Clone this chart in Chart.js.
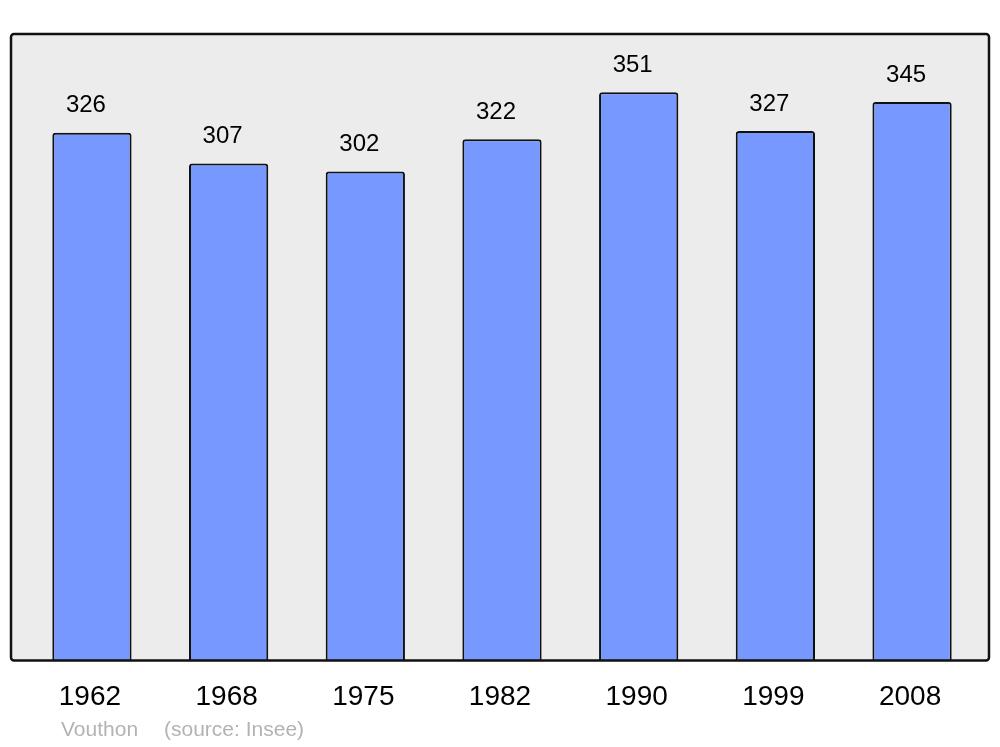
<!DOCTYPE html>
<html>
<head>
<meta charset="utf-8">
<script src="https://cdn.jsdelivr.net/npm/chart.js@4.4.1/dist/chart.umd.min.js"></script>
<style>
  html, body { margin: 0; padding: 0; background: #fff; }
  #wrap { width: 1000px; height: 747px; }
</style>
</head>
<body>
<div id="wrap"><canvas id="popChart" width="1000" height="747"></canvas></div>
<script>
const years = ['1962', '1968', '1975', '1982', '1990', '1999', '2008'];
const population = [326, 307, 302, 322, 351, 327, 345];
const commune = 'Vouthon';
const source = '(source: Insee)';

// grey framed box behind the bars
const frameBox = {
  id: 'frameBox',
  beforeDraw(chart) {
    const { ctx, chartArea: a } = chart;
    const x0 = a.left - 12.6, x1 = a.right + 8.6;
    ctx.save();
    ctx.beginPath();
    ctx.roundRect(x0, a.top, x1 - x0, a.bottom - a.top, 3);
    ctx.fillStyle = '#ececec';
    ctx.fill();
    ctx.restore();
  },
  afterDatasetsDraw(chart) {
    const { ctx, chartArea: a } = chart;
    const x0 = a.left - 12.6, x1 = a.right + 8.6;
    ctx.save();
    ctx.beginPath();
    ctx.roundRect(x0, a.top, x1 - x0, a.bottom - a.top, 3);
    ctx.lineWidth = 2.5;
    ctx.strokeStyle = '#111';
    ctx.stroke();
    ctx.restore();
  }
};

// numbers above each bar and the footer line
const valueLabels = {
  id: 'valueLabels',
  afterDraw(chart) {
    const { ctx } = chart;
    const meta = chart.getDatasetMeta(0);
    ctx.save();
    ctx.font = '24px "Liberation Sans", Arial, sans-serif';
    ctx.fillStyle = '#000';
    ctx.textAlign = 'center';
    ctx.textBaseline = 'middle';
    meta.data.forEach((bar, i) => {
      ctx.fillText(population[i], bar.x - 6, bar.y - 27);
    });
    ctx.font = '21px "Liberation Sans", Arial, sans-serif';
    ctx.fillStyle = '#b3b3b3';
    ctx.textAlign = 'left';
    ctx.fillText(commune, 61, 730);
    ctx.fillText(source, 164, 730);
    ctx.restore();
  }
};

new Chart(document.getElementById('popChart'), {
  type: 'bar',
  data: {
    labels: years,
    datasets: [{
      data: population,
      backgroundColor: '#7799ff',
      borderColor: '#111',
      borderWidth: 2,
      borderRadius: { topLeft: 3, topRight: 3 },
      borderSkipped: 'bottom',
      barPercentage: 0.58,
      categoryPercentage: 1
    }]
  },
  options: {
    responsive: false,
    animation: false,
    layout: { padding: { left: 23.6, right: 19.6, top: 34, bottom: 21 } },
    plugins: { legend: { display: false }, tooltip: { enabled: false } },
    scales: {
      x: {
        grid: { display: false },
        border: { display: false },
        ticks: {
          color: '#000',
          padding: 12,
          labelOffset: -2,
          font: { size: 28, family: '"Liberation Sans", Arial, sans-serif' }
        }
      },
      y: {
        display: false,
        min: 0,
        max: 387
      }
    }
  },
  plugins: [frameBox, valueLabels]
});
</script>
</body>
</html>
